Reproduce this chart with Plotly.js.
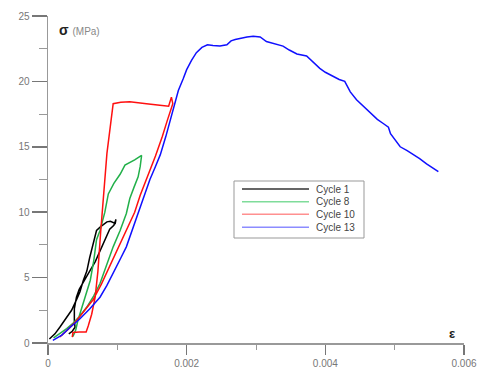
<!DOCTYPE html>
<html><head><meta charset="utf-8">
<script src="https://cdn.plot.ly/plotly-3.0.1.min.js"></script>
<style>html,body{margin:0;padding:0;background:#fff}#c{width:477px;height:372px}</style>
</head><body><div id="c"></div>
<script>
const seriesNames = ["Cycle 1", "Cycle 8", "Cycle 10", "Cycle 13"];
const cycle1X = [0.00002,0.0001,0.00017,0.00025,0.00034,0.00041,0.00046,0.00051,0.00056,0.0006,0.00065,0.0007,0.00076,0.00085,0.0009,0.00097,0.00098,0.00095,0.00089,0.00082,0.00075,0.00068,0.00061,0.00051,0.00045,0.00041,0.00038,0.00038,0.00039,0.00035,0.0003];
const cycle1Y = [0.3,0.7,1.2,1.8,2.5,3.3,3.9,4.8,5.5,6.5,7.6,8.6,8.9,9.26,9.3,9.14,9.45,9.0,8.7,7.9,7.0,6.2,5.57,4.7,4.1,3.5,2.6,1.7,1.2,0.9,0.7];
const cycle8X = [0.00036,0.0004,0.00043,0.00046,0.00053,0.00061,0.00066,0.0007,0.00075,0.00082,0.00087,0.00095,0.00104,0.00111,0.00125,0.00135,0.00133,0.0013,0.00124,0.00118,0.00113,0.00104,0.00094,0.00085,0.00075,0.00066,0.00056,0.00045,0.00036,0.00027,0.00017,0.00008];
const cycle8Y = [0.5,1.0,1.7,2.25,3.4,4.8,6.3,7.9,8.6,10.0,11.4,12.2,12.9,13.6,14.0,14.35,13.5,12.7,11.9,11.05,9.9,8.6,7.35,6.0,4.55,3.6,2.75,2.0,1.5,1.1,0.7,0.4];
const cycle10X = [0.00035,0.00036,0.00045,0.00055,0.00058,0.00063,0.00068,0.00072,0.00076,0.0008,0.00085,0.00094,0.00105,0.00118,0.0013,0.00142,0.00158,0.00174,0.00178,0.0018,0.00172,0.00165,0.00155,0.00145,0.00133,0.00125,0.00113,0.001,0.00089,0.00077,0.00065,0.00052,0.00041,0.0003,0.00017];
const cycle10Y = [0.45,0.8,0.85,0.85,1.3,2.2,3.5,5.5,8.5,11.2,14.5,18.3,18.4,18.45,18.4,18.3,18.2,18.1,18.8,18.3,17.0,15.8,14.3,12.9,11.3,10.0,8.6,7.1,5.8,4.5,3.3,2.4,1.7,1.1,0.46];
const cycle13X = [0.00007,0.0002,0.00032,0.00045,0.0006,0.00075,0.00085,0.00095,0.00105,0.00113,0.0012,0.00128,0.00137,0.00147,0.00155,0.00162,0.0017,0.00176,0.00181,0.00188,0.00195,0.002,0.00207,0.00214,0.00222,0.0023,0.00238,0.00248,0.00258,0.00264,0.0027,0.00278,0.00287,0.00296,0.00306,0.00315,0.00325,0.00339,0.00348,0.00359,0.00373,0.00382,0.00392,0.004,0.00411,0.0042,0.00428,0.00436,0.00445,0.00455,0.00464,0.00475,0.00483,0.00491,0.00494,0.00498,0.00508,0.00518,0.00528,0.00536,0.00546,0.00556,0.00563];
const cycle13Y = [0.2,0.6,1.2,1.8,2.6,3.5,4.4,5.4,6.5,7.35,8.4,9.5,11.0,12.5,13.5,14.4,15.8,16.9,18.0,19.3,20.2,20.9,21.6,22.2,22.6,22.8,22.75,22.7,22.8,23.1,23.2,23.3,23.4,23.45,23.4,23.05,22.9,22.7,22.4,22.1,21.95,21.5,21.0,20.7,20.4,20.15,20.0,19.2,18.6,18.1,17.6,17.1,16.8,16.5,16.0,15.7,15.0,14.7,14.4,14.1,13.7,13.35,13.1];
const xTickVals = [0, 0.002, 0.004, 0.006];
const xTickText = ["0", "0.002", "0.004", "0.006"];
const yTickVals = [0, 5, 10, 15, 20, 25];
const yTickText = ["0", "5", "10", "15", "20", "25"];

const colors = ["#000000", "#22b04a", "#ff1010", "#1010ff"];
const legendColors = ["#333333", "#7fdc9a", "#ff9090", "#8c8cff"];
const xs = [cycle1X, cycle8X, cycle10X, cycle13X];
const ys = [cycle1Y, cycle8Y, cycle10Y, cycle13Y];
const traces = seriesNames.map((n, i) => ({
  x: xs[i], y: ys[i], name: n, type: 'scatter', mode: 'lines',
  line: {color: colors[i], width: 1.5}, showlegend: false
}));

// plot area geometry in pixels (for legend placement)
const W = 477, H = 372, ML = 48, MR = 13, MT = 16, MB = 29;
const PW = W - ML - MR, PH = H - MT - MB;
const px = v => (v - ML) / PW;
const py = v => (H - MB - v) / PH;

const fontFam = 'Liberation Sans, Arial, sans-serif';
const shapes = [
  {type: 'rect', xref: 'paper', yref: 'paper', x0: px(234), x1: px(364), y0: py(238), y1: py(181),
   line: {color: '#999', width: 1}, fillcolor: '#fff', layer: 'above'}
];
const legendRows = [189, 201.7, 214.3, 227.3];
const annotations = [
  {xref: 'paper', yref: 'paper', x: px(57), y: py(30), xanchor: 'left', yanchor: 'middle', showarrow: false,
   text: "<b>σ</b> <span style='font-size:10px;color:#888'>(MPa)</span>",
   font: {family: fontFam, size: 14, color: '#222'}},
  {xref: 'paper', yref: 'paper', x: px(452), y: py(333), xanchor: 'center', yanchor: 'middle', showarrow: false,
   text: "<b>ε</b>", font: {family: fontFam, size: 13, color: '#222'}}
];
seriesNames.forEach((n, i) => {
  shapes.push({type: 'line', xref: 'paper', yref: 'paper', x0: px(242), x1: px(309),
    y0: py(legendRows[i]), y1: py(legendRows[i]), line: {color: legendColors[i], width: 1.5}, layer: 'above'});
  annotations.push({xref: 'paper', yref: 'paper', x: px(314), y: py(legendRows[i]), xanchor: 'left', yanchor: 'middle',
    showarrow: false, text: n, font: {family: fontFam, size: 10, color: '#444'}});
});

const tf = {family: fontFam, size: 10, color: '#777'};
const layout = {
  width: W, height: H,
  margin: {l: ML, r: MR, t: MT, b: MB},
  paper_bgcolor: '#fff', plot_bgcolor: '#fff',
  showlegend: false,
  xaxis: {range: [0, 0.006], showgrid: false, zeroline: false,
    showline: true, linecolor: '#999', linewidth: 1.5,
    tickvals: xTickVals, ticktext: xTickText,
    ticks: 'outside', ticklen: 10, tickwidth: 1.5, tickcolor: '#777', tickfont: tf,
    minor: {tickvals: [0.001, 0.003, 0.005], ticks: 'outside', ticklen: 5, tickwidth: 1, tickcolor: '#999'}},
  yaxis: {range: [0, 25], showgrid: false, zeroline: false,
    showline: true, linecolor: '#999', linewidth: 1.5,
    tickvals: yTickVals, ticktext: yTickText,
    ticks: 'outside', ticklen: 15, tickwidth: 1.5, tickcolor: '#777', tickfont: tf,
    minor: {tickvals: [2.5, 7.5, 12.5, 17.5, 22.5], ticks: 'outside', ticklen: 8, tickwidth: 1, tickcolor: '#999'}},
  shapes: shapes,
  annotations: annotations
};
Plotly.newPlot('c', traces, layout, {displayModeBar: false, staticPlot: true});
</script></body></html>
